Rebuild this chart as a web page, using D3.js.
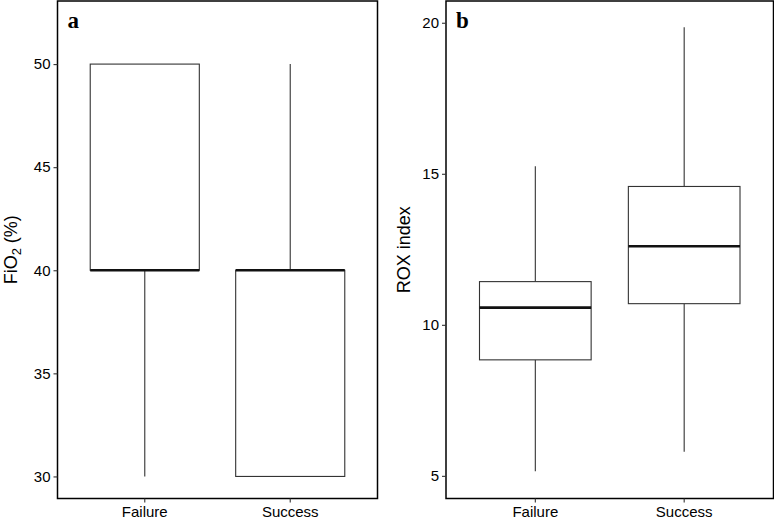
<!DOCTYPE html>
<html>
<head>
<meta charset="utf-8">
<script src="https://cdn.jsdelivr.net/npm/d3@7"></script>
<style>
  body { margin: 0; background: #fff; }
  svg { display: block; }
  .tick text { font-family: "Liberation Sans", Arial, sans-serif; font-size: 15px; fill: #000; }
</style>
</head>
<body>
<svg id="chart" width="774" height="523"></svg>
<script>
const groups = ["Failure", "Success"];

// FiO2 (%) five-number summaries
const fio2Low = [30, 30];
const fio2Q1 = [40, 30];
const fio2Median = [40, 40];
const fio2Q3 = [50, 40];
const fio2High = [50, 50];
const fio2Ticks = [30, 35, 40, 45, 50];

// ROX index five-number summaries
const roxLow = [5.15, 5.8];
const roxQ1 = [8.84, 10.7];
const roxMedian = [10.57, 12.6];
const roxQ3 = [11.43, 14.58];
const roxHigh = [15.25, 19.85];
const roxTicks = [5, 10, 15, 20];

const svg = d3.select("#chart");

function boxData(low, q1, med, q3, high) {
  return groups.map((g, i) => ({ group: g, low: low[i], q1: q1[i], med: med[i], q3: q3[i], high: high[i] }));
}

function renderPanel({ left, right, top, bottom, domain, ticks, data, label, title, titleX }) {
  const x = d3.scaleBand().domain(groups).range([left, right]).paddingOuter(0.1).paddingInner(0);
  const y = d3.scaleLinear().domain(domain).range([bottom, top]);
  const bw = x.bandwidth() * 0.75;

  const g = svg.append("g");

  const box = g.selectAll(".box").data(data).join("g").attr("class", "box");
  const cx = (d) => x(d.group) + x.bandwidth() / 2;

  box.append("line")
    .attr("x1", cx).attr("x2", cx)
    .attr("y1", (d) => y(d.high)).attr("y2", (d) => y(d.q3))
    .attr("stroke", "#333").attr("stroke-width", 1.1);
  box.append("line")
    .attr("x1", cx).attr("x2", cx)
    .attr("y1", (d) => y(d.q1)).attr("y2", (d) => y(d.low))
    .attr("stroke", "#333").attr("stroke-width", 1.1);
  box.append("rect")
    .attr("x", (d) => cx(d) - bw / 2)
    .attr("width", bw)
    .attr("y", (d) => y(d.q3))
    .attr("height", (d) => y(d.q1) - y(d.q3))
    .attr("fill", "#fff")
    .attr("stroke", "#333").attr("stroke-width", 1.1);
  box.append("line")
    .attr("x1", (d) => cx(d) - bw / 2).attr("x2", (d) => cx(d) + bw / 2)
    .attr("y1", (d) => y(d.med)).attr("y2", (d) => y(d.med))
    .attr("stroke", "#111").attr("stroke-width", 2.6);

  // frame
  g.append("rect")
    .attr("x", left).attr("y", top)
    .attr("width", right - left).attr("height", bottom - top)
    .attr("fill", "none").attr("stroke", "#000").attr("stroke-width", 1.5);

  g.append("g")
    .attr("transform", `translate(${left},0)`)
    .call(d3.axisLeft(y).tickValues(ticks).tickSize(4).tickPadding(3).tickSizeOuter(0))
    .call((a) => a.select(".domain").remove())
    .call((a) => a.selectAll(".tick line").attr("stroke", "#333").attr("stroke-width", 1.1));

  g.append("g")
    .attr("transform", `translate(0,${bottom})`)
    .call(d3.axisBottom(x).tickSize(4).tickPadding(4).tickSizeOuter(0))
    .call((a) => a.select(".domain").remove())
    .call((a) => a.selectAll(".tick line").attr("stroke", "#333").attr("stroke-width", 1.1));

  g.append("text")
    .attr("x", left + 10).attr("y", top + 27)
    .attr("font-family", "Liberation Serif, Times New Roman, serif")
    .attr("font-weight", "bold").attr("font-size", 23)
    .text(label);

  const t = g.append("text")
    .attr("transform", `translate(${titleX},${(top + bottom) / 2})rotate(-90)`)
    .attr("text-anchor", "middle")
    .attr("font-family", "Liberation Sans, Arial, sans-serif")
    .attr("font-size", 18);
  title(t);
}

renderPanel({
  left: 57.5, right: 377.5, top: 1, bottom: 498.5,
  domain: [28.93, 53.06], ticks: fio2Ticks,
  data: boxData(fio2Low, fio2Q1, fio2Median, fio2Q3, fio2High),
  label: "a", titleX: 16.5,
  title: (t) => {
    t.append("tspan").text("FiO");
    t.append("tspan").attr("font-size", 13).attr("dy", 4).text("2");
    t.append("tspan").attr("dy", -4).text(" (%)");
  },
});

renderPanel({
  left: 446, right: 773.5, top: 1, bottom: 498.5,
  domain: [4.25, 20.72], ticks: roxTicks,
  data: boxData(roxLow, roxQ1, roxMedian, roxQ3, roxHigh),
  label: "b", titleX: 410,
  title: (t) => t.text("ROX index"),
});
</script>
</body>
</html>
